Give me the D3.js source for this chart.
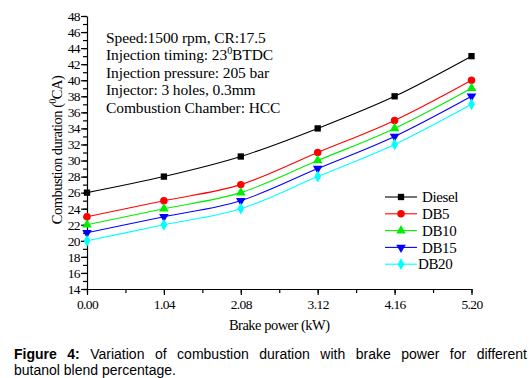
<!DOCTYPE html>
<html>
<head>
<meta charset="utf-8">
<script src="https://cdn.jsdelivr.net/npm/d3@7"></script>
<style>
  body { margin: 0; background: #fff; }
  #chart { position: relative; width: 532px; height: 378px; }
  .caption {
    position: absolute; left: 14px; width: 513px; margin: 0;
    font-family: "Liberation Sans", Arial, sans-serif; font-size: 14px;
    line-height: 16px; color: #000; white-space: nowrap;
  }
  .caption.first { top: 346px; text-align: justify; text-align-last: justify; white-space: normal; }
  .caption.second { top: 362px; text-align: left; }
</style>
</head>
<body>
<div id="chart"></div>
<script>
const power = [0.0, 1.04, 2.08, 3.12, 4.16, 5.2];
const xTicks = ['0.00', '1.04', '2.08', '3.12', '4.16', '5.20'];
const yTicks = [14, 16, 18, 20, 22, 24, 26, 28, 30, 32, 34, 36, 38, 40, 42, 44, 46, 48];

const diesel = [26, 28, 30.5, 34, 38, 43];
const db5 = [23, 25, 27, 31, 35, 40];
const db10 = [22, 24, 26, 30, 34, 39];
const db15 = [21, 23, 25, 29, 33, 38];
const db20 = [20, 22, 24, 28, 32, 37];

const notes = [
  'Speed:1500 rpm, CR:17.5',
  'Injection timing: 23|0|BTDC',
  'Injection pressure: 205 bar',
  'Injector: 3 holes, 0.3mm',
  'Combustion Chamber: HCC',
];

const series = [
  { name: 'Diesel', values: diesel, color: '#000000', symbol: d3.symbolSquare, size: 40, rotate: 0 },
  { name: 'DB5', values: db5, color: '#ff0000', symbol: d3.symbolCircle, size: 44, rotate: 0 },
  { name: 'DB10', values: db10, color: '#00ee00', symbol: d3.symbolTriangle, size: 40, rotate: 0 },
  { name: 'DB15', values: db15, color: '#0000ff', symbol: d3.symbolTriangle, size: 40, rotate: 180 },
  { name: 'DB20', values: db20, color: '#00ffff', symbol: d3.symbolDiamond, size: 40, rotate: 0 },
];

const width = 532;
const height = 378;
const margin = { top: 16, right: 60.5, bottom: 89, left: 87 };

const root = d3.select('#chart');
const svg = root.append('svg')
  .attr('width', width)
  .attr('height', height)
  .style('position', 'absolute')
  .style('left', 0)
  .style('top', 0);

const x = d3.scaleLinear().domain([0, 5.2]).range([margin.left, width - margin.right]);
const y = d3.scaleLinear().domain([14, 48]).range([height - margin.bottom, margin.top]);

const serif = '"Liberation Serif", "Times New Roman", serif';

// minor ticks
const xAxisMinor = d3.axisBottom(x)
  .tickValues(d3.range(0, 11).map(i => i * 0.52))
  .tickSize(4).tickFormat('');
const yAxisMinor = d3.axisLeft(y)
  .tickValues(d3.range(14, 49, 1))
  .tickSize(4).tickFormat('');

svg.append('g')
  .attr('transform', `translate(0,${y(14)})`)
  .call(xAxisMinor)
  .call(g => g.select('.domain').remove());
svg.append('g')
  .attr('transform', `translate(${x(0)},0)`)
  .call(yAxisMinor)
  .call(g => g.select('.domain').remove());

const xAxis = d3.axisBottom(x)
  .tickValues(power)
  .tickFormat((d, i) => xTicks[i])
  .tickSize(6).tickSizeOuter(0).tickPadding(4);
const yAxis = d3.axisLeft(y)
  .tickValues(yTicks)
  .tickSize(6).tickSizeOuter(0).tickPadding(1);

svg.append('g')
  .attr('transform', `translate(0,${y(14)})`)
  .call(xAxis);
svg.append('g')
  .attr('transform', `translate(${x(0)},0)`)
  .call(yAxis);

svg.selectAll('.tick text')
  .attr('font-family', serif)
  .attr('font-size', 13.5)
  .attr('letter-spacing', -0.6)
  .attr('fill', '#000');
svg.selectAll('.domain, .tick line').attr('stroke', '#000').attr('stroke-width', 1.2);

// axis labels
svg.append('text')
  .attr('x', (x(0) + x(5.2)) / 2)
  .attr('y', 330)
  .attr('text-anchor', 'middle')
  .attr('font-family', serif)
  .attr('font-size', 14.5)
  .attr('letter-spacing', -0.5)
  .text('Brake power (kW)');

const yLabel = svg.append('text')
  .attr('transform', `translate(62,150) rotate(-90)`)
  .attr('text-anchor', 'middle')
  .attr('font-family', serif)
  .attr('font-size', 14.5)
  .attr('letter-spacing', -0.5);
yLabel.append('tspan').text('Combustion duration (');
yLabel.append('tspan').attr('font-size', 9.5).attr('dy', -6).text('0');
yLabel.append('tspan').attr('dy', 6).text('CA)');

// lines and markers
const line = d3.line()
  .x((d, i) => x(power[i]))
  .y(d => y(d))
  .curve(d3.curveMonotoneX);

series.forEach(s => {
  svg.append('path')
    .attr('d', line(s.values))
    .attr('fill', 'none')
    .attr('stroke', s.color)
    .attr('stroke-width', 1.1);
  svg.append('g')
    .selectAll('path')
    .data(s.values)
    .join('path')
    .attr('d', d3.symbol(s.symbol, s.size))
    .attr('transform', (d, i) => `translate(${x(power[i])},${y(d)}) rotate(${s.rotate})`)
    .attr('fill', s.color);
});

// annotation
notes.forEach((n, i) => {
  const t = svg.append('text')
    .attr('x', 106)
    .attr('y', 43 + i * 17.4)
    .attr('font-family', serif)
    .attr('font-size', 15.5)
    .attr('letter-spacing', -0.1);
  const parts = n.split('|');
  t.append('tspan').text(parts[0]);
  if (parts.length > 1) {
    t.append('tspan').attr('font-size', 10).attr('dy', -6).text(parts[1]);
    t.append('tspan').attr('dy', 6).text(parts[2]);
  }
});

// legend
const rows = svg.append('g')
  .selectAll('g')
  .data(series)
  .join('g')
  .attr('transform', (d, i) => `translate(385,${197 + i * 16.8})`);
rows.append('line')
  .attr('x1', 0).attr('x2', 32)
  .attr('stroke', d => d.color)
  .attr('stroke-width', 1.1);
rows.append('path')
  .attr('d', d => d3.symbol(d.symbol, d.size)())
  .attr('transform', d => `translate(16,0) rotate(${d.rotate})`)
  .attr('fill', d => d.color);
rows.append('text')
  .attr('x', (d, i) => i === 4 ? 33 : 37)
  .attr('dy', '0.35em')
  .attr('font-family', serif)
  .attr('font-size', 15)
  .attr('letter-spacing', -0.4)
  .attr('fill', '#000')
  .text(d => d.name);

root.append('p')
  .attr('class', 'caption first')
  .html('<b>Figure 4:</b> Variation of combustion duration with brake power for different');
root.append('p')
  .attr('class', 'caption second')
  .text('butanol blend percentage.');
</script>
</body>
</html>
